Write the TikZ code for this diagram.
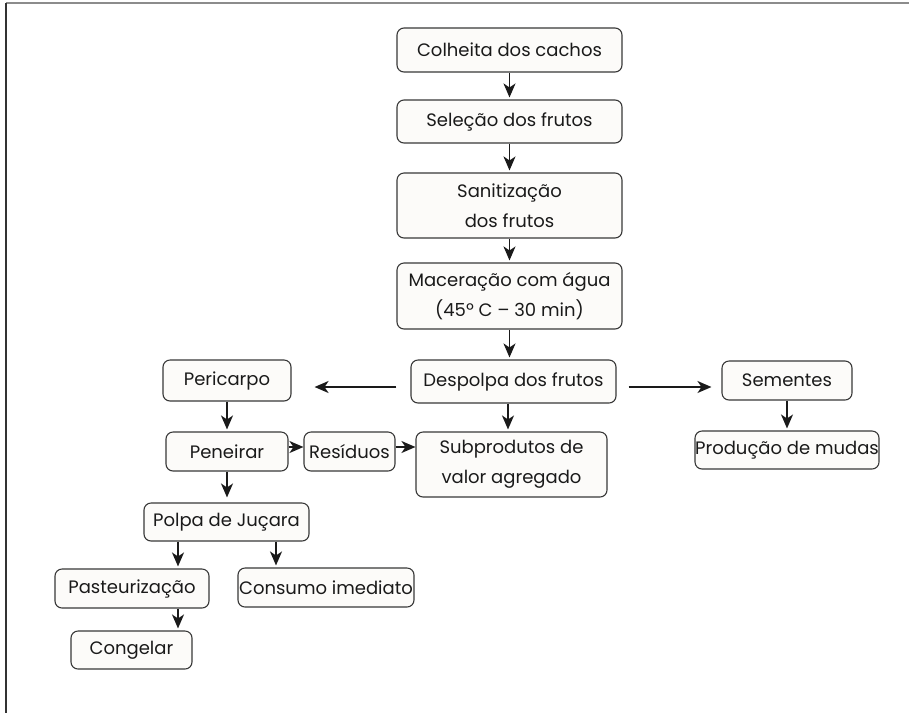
\documentclass[tikz,border=0pt]{standalone}
\usepackage{fontspec}
\setmainfont{Poppins}
\usetikzlibrary{arrows.meta}
\definecolor{boxline}{HTML}{383838}
\definecolor{boxfill}{HTML}{FCFBF9}
\definecolor{inkcol}{HTML}{1A1A1A}
\begin{document}
\begin{tikzpicture}[x=1pt,y=-1pt,
  stepbox/.style={draw=boxline,fill=boxfill,line width=1.1pt,rounded corners=7pt,
    inner sep=0pt,align=center,text=inkcol,
    font=\fontsize{18}{30}\selectfont},
  arr/.style={draw=inkcol,line width=1.5pt,-{Stealth[length=14pt,width=12pt,inset=4pt]},shorten >=2pt}]
\useasboundingbox (0,0) rectangle (909,713);
% frame lines
\draw[line width=1.6pt,draw=black!45] (6,3) -- (909,3);
\draw[line width=1.4pt,draw=black!80] (6,3) -- (6,713);

% main column
\node[stepbox,minimum width=225pt,minimum height=44pt] (colheita) at (509.5,50) {Colheita dos cachos};
\node[stepbox,minimum width=225pt,minimum height=43pt] (selecao) at (509.5,121.5) {Seleção dos frutos};
\node[stepbox,minimum width=225pt,minimum height=65pt] (sanit) at (509.5,205.5) {Sanitização\\dos frutos};
\node[stepbox,minimum width=225pt,minimum height=66pt] (macer) at (509.5,296) {Maceração com água\\(45º C – 30 min)};
\node[stepbox,minimum width=205pt,minimum height=43pt] (despolpa) at (513.5,381.5) {Despolpa dos frutos};
\node[stepbox,minimum width=191pt,minimum height=65pt] (subprod) at (511.5,464.5) {Subprodutos de\\valor agregado};

% left branch
\node[stepbox,minimum width=128pt,minimum height=41pt] (pericarpo) at (227,380.5) {Pericarpo};
\node[stepbox,minimum width=122pt,minimum height=39pt] (peneirar) at (227,451.5) {Peneirar};
\node[stepbox,minimum width=91pt,minimum height=39pt] (residuos) at (349.5,451.5) {Resíduos};
\node[stepbox,minimum width=165pt,minimum height=38pt] (polpa) at (226.5,522) {Polpa de Juçara};
\node[stepbox,minimum width=154pt,minimum height=39pt] (pasteur) at (132,588.5) {Pasteurização};
\node[stepbox,minimum width=176pt,minimum height=39pt] (consumo) at (326,587.5) {Consumo imediato};
\node[stepbox,minimum width=121pt,minimum height=38pt] (congelar) at (131.5,650) {Congelar};

% right branch
\node[stepbox,minimum width=130pt,minimum height=39pt] (sementes) at (787,380.5) {Sementes};
\node[stepbox,minimum width=184pt,minimum height=38pt] (producao) at (787,450) {Produção de mudas};

% connectors
\draw[arr] (colheita.south) -- (selecao.north);
\draw[arr] (selecao.south) -- (sanit.north);
\draw[arr] (sanit.south) -- (macer.north);
\draw[arr] (macer.south) -- (macer.south |- despolpa.north);
\draw[arr] ([xshift=-5.5pt]despolpa.south) -- ([xshift=-5.5pt]despolpa.south |- subprod.north);
\draw[arr,shorten <=14pt,shorten >=23pt] ([yshift=-5.5pt]despolpa.west) -- ([yshift=-5.5pt]despolpa.west -| pericarpo.east);
\draw[arr,shorten <=12pt,shorten >=10pt] ([yshift=-5.5pt]despolpa.east) -- ([yshift=-5.5pt]despolpa.east -| sementes.west);
\draw[arr] (pericarpo.south) -- (peneirar.north);
\draw[arr,shorten >=0pt] ([yshift=4.5pt]peneirar.east) -- ([yshift=4.5pt]residuos.west);
\draw[arr,shorten >=0pt] ([yshift=4.5pt]residuos.east) -- ([yshift=4.5pt]residuos.east -| subprod.west);
\draw[arr,shorten >=5pt] (peneirar.south) -- (peneirar.south |- polpa.north);
\draw[arr] (178,0 |- polpa.south) -- (178,0 |- pasteur.north);
\draw[arr] (276,0 |- polpa.south) -- (276,0 |- consumo.north);
\draw[arr] (178,0 |- pasteur.south) -- (178,0 |- congelar.north);
\draw[arr] (sementes.south) -- (producao.north);
\end{tikzpicture}
\end{document}
